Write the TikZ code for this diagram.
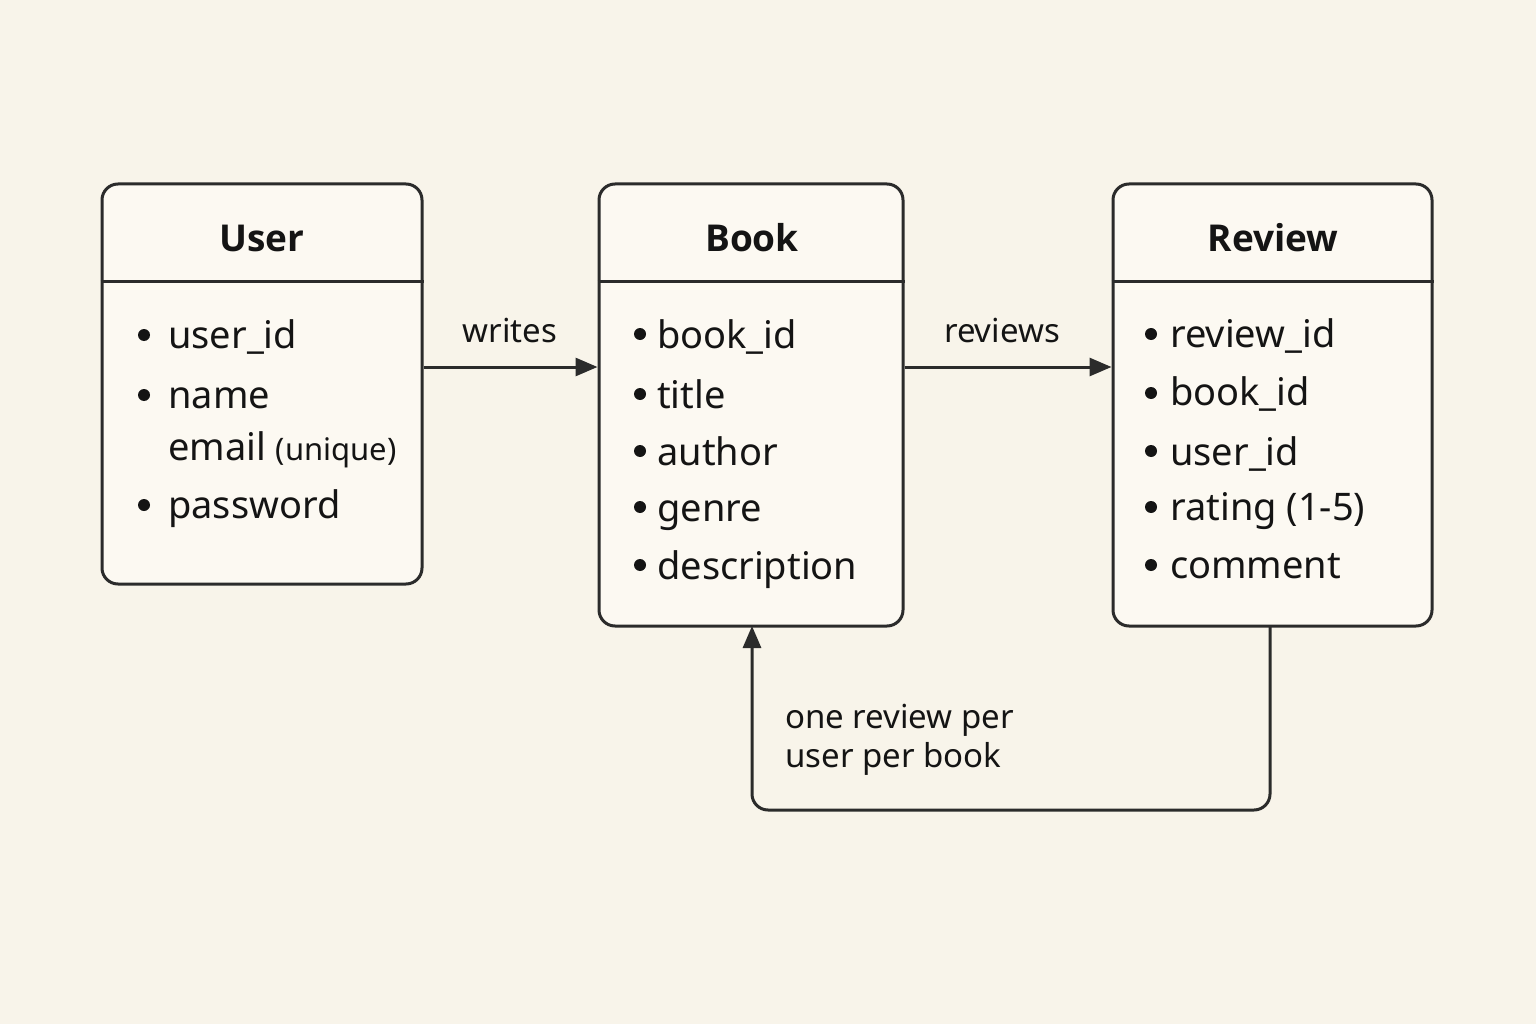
\documentclass[tikz,border=0pt]{standalone}
\usepackage{fontspec}
\setmainfont{Noto Sans}
\newfontfamily\titlefont{Open Sans}
\usetikzlibrary{arrows.meta}
\definecolor{bgc}{HTML}{F8F4EA}
\definecolor{boxc}{HTML}{FCF9F2}
\definecolor{linec}{HTML}{2B2B2B}
\definecolor{txtc}{HTML}{141414}
\tikzset{
  entity/.style={draw=linec, line width=3pt, fill=boxc, rounded corners=16pt, inner sep=0pt},
  divider/.style={draw=linec, line width=3pt},
  title/.style={font=\titlefont\bfseries\fontsize{37}{40}\selectfont, text=txtc, anchor=base},
  item/.style={font=\fontsize{38}{42}\selectfont, text=txtc, anchor=base west, inner sep=0pt},
  lbl/.style={font=\fontsize{33}{38}\selectfont, text=txtc, inner sep=0pt},
  bullet/.style={circle, fill=txtc, inner sep=0pt, minimum size=12pt},
  arr/.style={draw=linec, line width=3pt, -{Triangle[length=22pt,width=18pt]}},
}
\begin{document}
\begin{tikzpicture}[x=1pt,y=-1pt]
\useasboundingbox[fill=bgc] (0,0) rectangle (1536,1024);

% entities
\node[entity, minimum width=320pt, minimum height=400pt] (User) at (262,384) {};
\node[entity, minimum width=304pt, minimum height=442pt] (Book) at (751,405) {};
\node[entity, minimum width=319pt, minimum height=442pt] (Review) at (1272.5,405) {};

\draw[divider] (User.west |- 0,282) -- (User.east |- 0,282);
\draw[divider] (Book.west |- 0,282) -- (Book.east |- 0,282);
\draw[divider] (Review.west |- 0,282) -- (Review.east |- 0,282);

\node[title] (tUser) at (262,252) {User};
\node[title] (tBook) at (752,252) {Book};
\node[title] (tReview) at (1273,252) {Review};

% User items
\node[bullet] (bu1) at (144,335) {};
\node[item] (u1) at (168,348) {user\_id};
\node[bullet] (bu2) at (144,395) {};
\node[item] (u2) at (168,408) {name};
\node[item] (u3) at (168,460) {email {\fontsize{31}{34}\selectfont(unique)}};
\node[bullet] (bu4) at (144,505) {};
\node[item] (u4) at (168,518) {password};

% Book items
\node[bullet] (bb1) at (640,334) {};
\node[item] (b1) at (657,348) {book\_id};
\node[bullet] (bb2) at (640,394) {};
\node[item] (b2) at (657,408) {title};
\node[bullet] (bb3) at (640,451) {};
\node[item] (b3) at (657,465) {author};
\node[bullet] (bb4) at (640,507) {};
\node[item] (b4) at (657,521) {genre};
\node[bullet] (bb5) at (640,565) {};
\node[item] (b5) at (657,579) {description};

% Review items
\node[bullet] (br1) at (1151,334) {};
\node[item] (r1) at (1170,347) {review\_id};
\node[bullet] (br2) at (1151,393) {};
\node[item] (r2) at (1170,405) {book\_id};
\node[bullet] (br3) at (1151,451) {};
\node[item] (r3) at (1170,465) {user\_id};
\node[bullet] (br4) at (1151,507) {};
\node[item] (r4) at (1170,520) {rating (1-5)};
\node[bullet] (br5) at (1151,565) {};
\node[item] (r5) at (1170,578) {comment};

% connectors
\draw[arr] (User.east |- 0,367) -- (Book.west |- 0,367);
\node[lbl, anchor=base] (lw) at (510,342) {writes};
\draw[arr] (Book.east |- 0,367) -- (Review.west |- 0,367);
\node[lbl, anchor=base] (lr) at (1002,342) {reviews};

\coordinate (rb) at (1270,626);
\coordinate (bb) at (752,626);
\draw[arr, rounded corners=16pt] (rb) -- (1270,810) -- (752,810) -- (bb);
\node[lbl, anchor=base west, align=left] (lo1) at (785,728) {one review per};
\node[lbl, anchor=base west, align=left] (lo2) at (785,767) {user per book};
\end{tikzpicture}
\end{document}
